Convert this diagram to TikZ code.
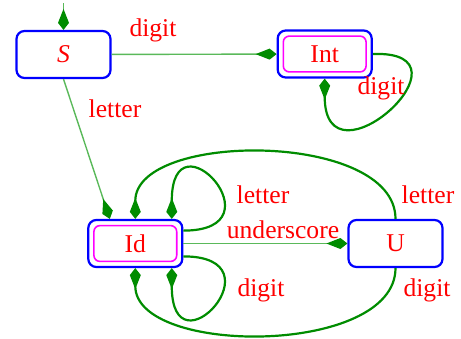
\documentclass[tikz,border=0pt]{standalone}
\usepackage{fontspec}
\setmainfont{Liberation Serif}
\usetikzlibrary{arrows.meta}
\definecolor{fsmgreen}{RGB}{0,140,0}
\definecolor{fsmlight}{RGB}{90,185,90}
\definecolor{fsmblue}{RGB}{0,0,255}
\definecolor{fsmpink}{RGB}{255,0,255}

\begin{document}
\begin{tikzpicture}[
    x=0.5pt, y=-0.5pt,
    font=\fontsize{12.8}{15}\selectfont,
    state/.style={rectangle, rounded corners=4pt, draw=fsmblue, line width=1.1pt, minimum width=47pt, minimum height=23.5pt, text=red},
    accept/.style={state, path picture={\draw[fsmpink, line width=0.8pt, rounded corners=3pt]
        ([shift={(2.8pt,2.8pt)}]path picture bounding box.south west) rectangle
        ([shift={(-2.8pt,-2.8pt)}]path picture bounding box.north east);}},
    thin_edge/.style={-{Kite[length=10.5pt,width=5.5pt,inset=7pt,fsmgreen]}, fsmlight, line width=0.7pt},
    thick_edge/.style={-{Kite[length=10.5pt,width=5.5pt,inset=7pt]}, fsmgreen, line width=1.1pt},
    lbl/.style={text=red, inner sep=1pt}
]
    \useasboundingbox (0,0) rectangle (461,338);

    % states
    \node[state] (S) at (63.5,54.5) {\textit{S}};
    \node[accept] (Int) at (324.7,54) {Int};
    \node[accept] (Id) at (135.3,243.5) {Id};
    \node[state] (U) at (395.5,243.5) {U};
    \coordinate (init) at (63.5,3);

    % transitions
    \draw[thin_edge] (init) -- (S);
    \draw[thin_edge] (S) -- (Int);
    \draw[thin_edge] (S.south) -- (Id.136);
    \draw[thin_edge] (Id) -- (U);
    \draw[thick_edge] (Int.east) .. controls +(110,-4) and +(0,115) .. (Int.south);
    \draw[thick_edge] (Id.15) .. controls +(100,0) and +(0,-110) .. (Id.34);
    \draw[thick_edge] (Id.-15) .. controls +(100,0) and +(0,110) .. (Id.-34);
    \draw[thick_edge] (U.north) .. controls +(0,-88) and +(0,-88) .. (Id.north);
    \draw[thick_edge] (U.south) .. controls +(0,88) and +(0,88) .. (Id.south);

    % labels
    \node[lbl] (dS) at (153,30) {digit};
    \node[lbl] (lS) at (115,109) {letter};
    \node[lbl] (dInt) at (381,88) {digit};
    \node[lbl] (lId) at (263,195) {letter};
    \node[lbl] (uId) at (283,230) {underscore};
    \node[lbl] (dId) at (261,290) {digit};
    \node[lbl] (lU) at (428,195) {letter};
    \node[lbl] (dU) at (427,290) {digit};
\end{tikzpicture}
\end{document}
